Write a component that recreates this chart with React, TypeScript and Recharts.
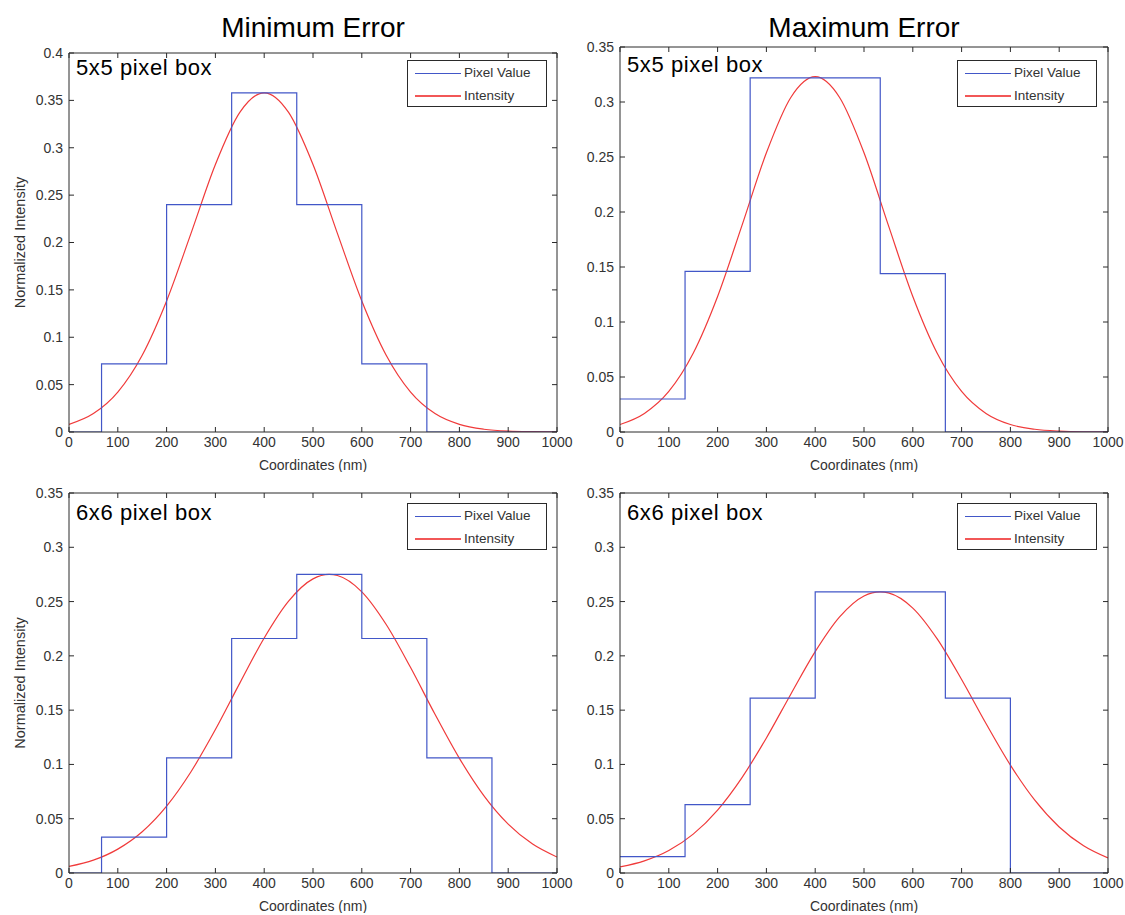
import React from 'react';
import { LineChart, Line, XAxis, YAxis, Legend } from 'recharts';

// ---------- data ----------
const xTicks = [0, 100, 200, 300, 400, 500, 600, 700, 800, 900, 1000];
const yTicksTopLeft = [0, 0.05, 0.1, 0.15, 0.2, 0.25, 0.3, 0.35, 0.4];
const yTicksOther = [0, 0.05, 0.1, 0.15, 0.2, 0.25, 0.3, 0.35];

// Intensity curve sample positions (nm)
const curveX5 = [0, 50, 100, 150, 200, 250, 300, 350, 400, 450, 500, 550, 600, 650, 700, 750, 800, 850, 900, 950, 1000];
const curveX6 = [0, 50, 100, 150, 200, 250, 300, 350, 400, 450, 500, 533, 550, 600, 650, 700, 750, 800, 850, 900, 950, 1000];

// Minimum error, 5x5 pixel box
const minErr5Intensity = [0.008, 0.0194, 0.0421, 0.081, 0.1383, 0.2096, 0.2823, 0.3373, 0.358, 0.3373, 0.2823, 0.2096, 0.1383, 0.081, 0.0421, 0.0194, 0.008, 0.0029, 0.0009, 0.0003, 0.0001];
const minErr5StepX = [0, 66.7, 200, 333.3, 466.7, 600, 733.3, 1000];
const minErr5Pixel = [0, 0.072, 0.24, 0.358, 0.24, 0.072, 0, 0];

// Maximum error, 5x5 pixel box
const maxErr5Intensity = [0.0068, 0.0169, 0.0369, 0.0716, 0.1232, 0.1878, 0.2538, 0.3041, 0.323, 0.3041, 0.2538, 0.1878, 0.1232, 0.0716, 0.0369, 0.0169, 0.0068, 0.0025, 0.0008, 0.0002, 0.0001];
const maxErr5StepX = [0, 133.3, 266.7, 533.3, 666.7, 1000];
const maxErr5Pixel = [0.03, 0.146, 0.322, 0.144, 0, 0];

// Minimum error, 6x6 pixel box
const minErr6Intensity = [0.006, 0.0118, 0.022, 0.038, 0.0616, 0.0933, 0.1321, 0.1749, 0.2165, 0.2504, 0.2709, 0.275, 0.274, 0.259, 0.2289, 0.1892, 0.1462, 0.1056, 0.0713, 0.045, 0.0266, 0.0147];
const minErr6StepX = [0, 66.7, 200, 333.3, 466.7, 600, 733.3, 866.7, 1000];
const minErr6Pixel = [0, 0.033, 0.106, 0.216, 0.275, 0.216, 0.106, 0, 0];

// Maximum error, 6x6 pixel box
const maxErr6Intensity = [0.0056, 0.0112, 0.0207, 0.0358, 0.058, 0.0879, 0.1244, 0.1647, 0.2039, 0.2359, 0.2552, 0.259, 0.258, 0.244, 0.2156, 0.1782, 0.1377, 0.0994, 0.0671, 0.0424, 0.025, 0.0138];
const maxErr6StepX = [0, 133.3, 266.7, 400, 666.7, 800, 1000];
const maxErr6Pixel = [0.015, 0.063, 0.161, 0.259, 0.161, 0, 0];

const toPoints = (xs: number[], ys: number[]) => xs.map((x, i) => ({ x, y: ys[i] }));

// ---------- styling ----------
const BLUE = '#4257c8';
const RED = '#f03a3a';
const AXIS = '#2a2a2a';
const TXT = '#333333';
const FONT = "'Liberation Sans', Arial, Helvetica, sans-serif";
const SMALL = 14;

const EmptyTick = () => null;

const LegendBox = () => (
  <div
    style={{
      width: 140,
      height: 47,
      border: `1px solid ${AXIS}`,
      background: '#fff',
      boxSizing: 'border-box',
      position: 'relative',
      fontSize: 13.5,
      color: TXT,
      fontFamily: FONT,
    }}
  >
    <svg width={50} height={45} style={{ position: 'absolute', left: 5, top: 0 }}>
      <line x1={2} x2={48} y1={12.5} y2={12.5} stroke={BLUE} strokeWidth={1.2} />
      <line x1={2} x2={48} y1={35} y2={35} stroke={RED} strokeWidth={1.8} strokeOpacity={0.85} />
    </svg>
    <div style={{ position: 'absolute', left: 56, top: 3, lineHeight: '18px', whiteSpace: 'nowrap' }}>Pixel Value</div>
    <div style={{ position: 'absolute', left: 56, top: 26, lineHeight: '18px', whiteSpace: 'nowrap' }}>Intensity</div>
  </div>
);

type PanelProps = {
  left: number;
  top: number;
  width: number;
  height: number;
  marginTop: number;
  marginRight: number;
  leftAxisWidth: number;
  yMax: number;
  yTicks: number[];
  steps: { x: number; y: number }[];
  curve: { x: number; y: number }[];
  showYLabel: boolean;
  legendLeft: number;
  legendTop: number;
  boxLabel: string;
  boxLabelLeft: number;
  boxLabelTop: number;
};

const Panel = (p: PanelProps) => (
  <div style={{ position: 'absolute', left: p.left, top: p.top, width: p.width, height: p.height }}>
    <LineChart
      width={p.width}
      height={p.height}
      margin={{ top: p.marginTop, right: p.marginRight, bottom: 0, left: 0 }}
    >
      <XAxis
        xAxisId={0}
        dataKey="x"
        type="number"
        domain={[0, 1000]}
        ticks={xTicks}
        allowDataOverflow
        height={40}
        tickSize={-5}
        tickMargin={10}
        stroke={AXIS}
        tick={{ fontSize: SMALL, fill: TXT }}
        label={{ value: 'Coordinates (nm)', position: 'insideBottom', offset: 2, fontSize: SMALL, fill: TXT }}
      />
      <XAxis
        xAxisId="top"
        orientation="top"
        dataKey="x"
        type="number"
        domain={[0, 1000]}
        ticks={xTicks}
        allowDataOverflow
        height={1}
        tickSize={-5}
        stroke={AXIS}
        tick={<EmptyTick />}
      />
      <YAxis
        yAxisId={0}
        type="number"
        domain={[0, p.yMax]}
        ticks={p.yTicks}
        allowDataOverflow
        width={p.leftAxisWidth}
        tickSize={-5}
        tickMargin={11}
        stroke={AXIS}
        tick={{ fontSize: SMALL, fill: TXT }}
        label={
          p.showYLabel
            ? {
                value: 'Normalized Intensity',
                angle: -90,
                position: 'insideLeft',
                offset: 20,
                fontSize: 14.5,
                fill: TXT,
                style: { textAnchor: 'middle' },
              }
            : undefined
        }
      />
      <YAxis
        yAxisId="right"
        orientation="right"
        type="number"
        domain={[0, p.yMax]}
        ticks={p.yTicks}
        allowDataOverflow
        width={1}
        tickSize={-5}
        stroke={AXIS}
        tick={<EmptyTick />}
      />
      <Line
        data={p.curve}
        dataKey="y"
        name="Intensity"
        type="monotone"
        stroke={RED}
        strokeWidth={1.2}
        dot={false}
        isAnimationActive={false}
      />
      <Line
        data={p.steps}
        dataKey="y"
        name="Pixel Value"
        type="stepAfter"
        stroke={BLUE}
        strokeWidth={1.2}
        dot={false}
        isAnimationActive={false}
      />
      <Legend
        layout="vertical"
        align="center"
        verticalAlign="middle"
        content={() => <LegendBox />}
        wrapperStyle={{ position: 'absolute', left: p.legendLeft, top: p.legendTop, width: 140, height: 47 }}
      />
    </LineChart>
    <div
      style={{
        position: 'absolute',
        left: p.boxLabelLeft,
        top: p.boxLabelTop,
        fontSize: 22,
        lineHeight: 1,
        color: '#000',
        whiteSpace: 'nowrap',
        letterSpacing: 0.6,
      }}
    >
      {p.boxLabel}
    </div>
  </div>
);

export default function App() {
  return (
    <div
      style={{
        position: 'absolute',
        left: 0,
        top: 0,
        width: 1125,
        height: 915,
        background: '#fff',
        fontFamily: FONT,
        overflow: 'hidden',
      }}
    >
      <div style={{ position: 'absolute', left: 113, width: 400, top: 14, textAlign: 'center', fontSize: 28, lineHeight: 1, color: '#000' }}>
        Minimum Error
      </div>
      <div style={{ position: 'absolute', left: 664, width: 400, top: 14, textAlign: 'center', fontSize: 28, lineHeight: 1, color: '#000' }}>
        Maximum Error
      </div>

      <Panel
        left={0}
        top={0}
        width={580}
        height={472}
        marginTop={52}
        marginRight={22}
        leftAxisWidth={69}
        yMax={0.4}
        yTicks={yTicksTopLeft}
        steps={toPoints(minErr5StepX, minErr5Pixel)}
        curve={toPoints(curveX5, minErr5Intensity)}
        showYLabel
        legendLeft={407}
        legendTop={60}
        boxLabel="5x5 pixel box"
        boxLabelLeft={76}
        boxLabelTop={57}
      />
      <Panel
        left={560}
        top={0}
        width={565}
        height={472}
        marginTop={46}
        marginRight={16}
        leftAxisWidth={60}
        yMax={0.35}
        yTicks={yTicksOther}
        steps={toPoints(maxErr5StepX, maxErr5Pixel)}
        curve={toPoints(curveX5, maxErr5Intensity)}
        showYLabel={false}
        legendLeft={397}
        legendTop={60}
        boxLabel="5x5 pixel box"
        boxLabelLeft={67}
        boxLabelTop={54}
      />
      <Panel
        left={0}
        top={440}
        width={580}
        height={473}
        marginTop={52}
        marginRight={22}
        leftAxisWidth={69}
        yMax={0.35}
        yTicks={yTicksOther}
        steps={toPoints(minErr6StepX, minErr6Pixel)}
        curve={toPoints(curveX6, minErr6Intensity)}
        showYLabel
        legendLeft={407}
        legendTop={63}
        boxLabel="6x6 pixel box"
        boxLabelLeft={76}
        boxLabelTop={62}
      />
      <Panel
        left={560}
        top={440}
        width={565}
        height={473}
        marginTop={52}
        marginRight={16}
        leftAxisWidth={60}
        yMax={0.35}
        yTicks={yTicksOther}
        steps={toPoints(maxErr6StepX, maxErr6Pixel)}
        curve={toPoints(curveX6, maxErr6Intensity)}
        showYLabel={false}
        legendLeft={397}
        legendTop={63}
        boxLabel="6x6 pixel box"
        boxLabelLeft={67}
        boxLabelTop={62}
      />
    </div>
  );
}
